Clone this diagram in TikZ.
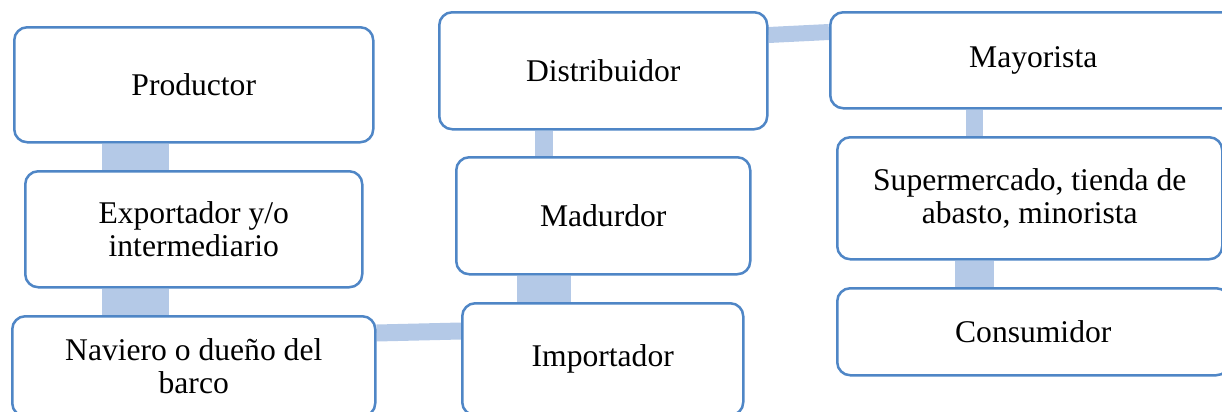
\documentclass[tikz,border=0pt]{standalone}
\usepackage{fontspec}
\setmainfont{Liberation Serif}
\usetikzlibrary{backgrounds}
\definecolor{borde}{RGB}{79,134,198}
\definecolor{barra}{RGB}{180,201,231}

\begin{document}
\begin{tikzpicture}[x=0.5pt, y=-0.5pt,
  caja/.style = {shape=rectangle, rounded corners=6.5pt,
    draw=borde, line width=1.25pt, fill=white, align=center,
    anchor=north west, inner sep=0pt,
    font=\fontsize{15.8}{16.5}\selectfont},
  enlace/.style = {draw=barra, line width=#1}]
  \useasboundingbox (0,0) rectangle (1222,412);
  \node[caja, minimum width=179.5pt, minimum height=57.5pt] (prod) at (13,26) {Productor};
  \node[caja, minimum width=168.5pt, minimum height=58pt] (expo) at (24,170) {Exportador y/o\\intermediario};
  \node[caja, minimum width=181.5pt, minimum height=50pt] (nav) at (11,315) {Naviero o dueño del\\barco};
  \node[caja, minimum width=164pt, minimum height=58.5pt] (dist) at (438,11) {Distribuidor};
  \node[caja, minimum width=147pt, minimum height=58.5pt] (madu) at (455,156) {Madurdor};
  \node[caja, minimum width=140.5pt, minimum height=56pt] (impo) at (461,302) {Importador};
  \node[caja, minimum width=203pt, minimum height=48pt] (mayo) at (829,11) {Mayorista};
  \node[caja, minimum width=192.5pt, minimum height=61pt] (super) at (836,136) {Supermercado, tienda de\\abasto, minorista};
  \node[caja, minimum width=196pt, minimum height=43.5pt] (cons) at (836,287) {Consumidor};
  \begin{scope}[on background layer]
    \draw[enlace=33.5pt] (135.5,0 |- prod.south) -- (135.5,0 |- expo.north);
    \draw[enlace=33.5pt] (135.5,0 |- expo.south) -- (135.5,0 |- nav.north);
    \draw[enlace=8.5pt] (nav.east |- 0,333) -- (impo.west |- 0,331);
    \draw[enlace=9pt] (544,0 |- dist.south) -- (544,0 |- madu.north);
    \draw[enlace=27pt] (544,0 |- madu.south) -- (544,0 |- impo.north);
    \draw[enlace=8pt] (dist.east |- 0,35) -- (mayo.west |- 0,32);
    \draw[enlace=8.5pt] (974.5,0 |- mayo.south) -- (974.5,0 |- super.north);
    \draw[enlace=19.5pt] (974.5,0 |- super.south) -- (974.5,0 |- cons.north);
  \end{scope}
\end{tikzpicture}
\end{document}
